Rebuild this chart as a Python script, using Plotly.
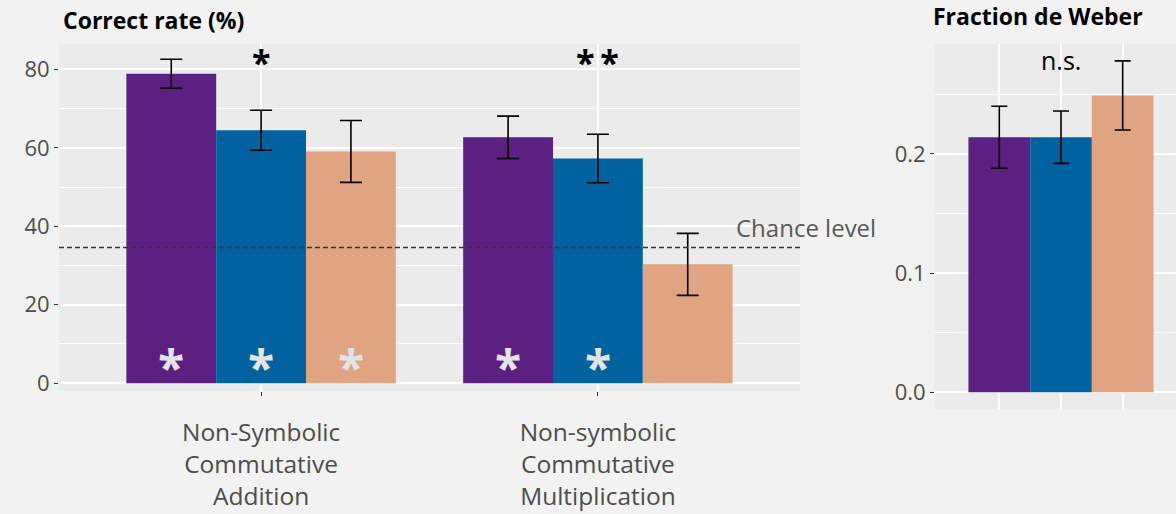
import plotly.graph_objects as go

# ---- data -------------------------------------------------------------
conditions = [
    "Non-Symbolic<br>Commutative<br>Addition",
    "Non-symbolic<br>Commutative<br>Multiplication",
]
group_names = ["Group 1", "Group 2", "Group 3"]
group_colors = ["#5B2082", "#00629E", "#E0A482"]

# correct rate (%) per condition, one list per group
rate_g1 = [78.9, 62.7]
rate_g2 = [64.5, 57.3]
rate_g3 = [59.1, 30.3]
rate_err_g1 = [3.7, 5.4]
rate_err_g2 = [5.1, 6.2]
rate_err_g3 = [7.9, 7.9]

# significance against chance, drawn inside each bar
above_chance_g1 = [True, True]
above_chance_g2 = [True, True]
above_chance_g3 = [True, False]

# between-group comparison per condition
group_comparison = ["*", "*\u2009*"]

chance_level = 34.6

# Weber fraction per group
weber = [0.214, 0.214, 0.249]
weber_err = [0.026, 0.022, 0.029]
weber_comparison = "n.s."

rate_y_ticks = [0, 20, 40, 60, 80]
weber_y_ticks = [0.0, 0.1, 0.2]
weber_y_ticktext = ["0.0", "0.1", "0.2"]

# ---- figure -----------------------------------------------------------
W, H = 1176, 514
FONT = "Open Sans"
TICK_COLOR = "#4D4D4D"
BARGAP = 0.2

fig = go.Figure()

rates = [rate_g1, rate_g2, rate_g3]
errs = [rate_err_g1, rate_err_g2, rate_err_g3]
for name, color, vals, err in zip(group_names, group_colors, rates, errs):
    fig.add_trace(go.Bar(
        x=conditions, y=vals, name=name,
        marker=dict(color=color, line=dict(width=0)),
        error_y=dict(type="data", array=err, color="black", thickness=1.6, width=11),
        xaxis="x", yaxis="y", showlegend=False,
    ))

fig.add_trace(go.Bar(
    x=group_names, y=weber, width=[1.0] * len(weber),
    marker=dict(color=group_colors, line=dict(width=0)),
    error_y=dict(type="data", array=weber_err, color="black", thickness=1.6, width=8),
    xaxis="x2", yaxis="y2", showlegend=False,
))

annotations = []

# white stars inside the bars (above chance), placed at each dodged bar centre
n_groups = len(group_names)
bar_w = (1 - BARGAP) / n_groups
flags = [above_chance_g1, above_chance_g2, above_chance_g3]
for gi, gflags in enumerate(flags):
    offset = (gi - (n_groups - 1) / 2) * bar_w
    for ci, flag in enumerate(gflags):
        if flag:
            annotations.append(dict(
                x=ci + offset, y=4.3, xref="x", yref="y", text="<b>*</b>",
                showarrow=False, xanchor="center", yanchor="middle",
                font=dict(family=FONT, size=48, color="#E3E3E3"),
            ))

# between-group comparison marks
for ci, mark in enumerate(group_comparison):
    annotations.append(dict(
        x=ci, y=81.8, xref="x", yref="y", text="<b>" + mark + "</b>",
        showarrow=False, xanchor="center", yanchor="middle",
        font=dict(family=FONT, size=34, color="black"),
    ))

annotations.append(dict(
    x=1, y=0.279, xref="x2", yref="y2", text=weber_comparison,
    showarrow=False, xanchor="center", yanchor="middle",
    font=dict(family=FONT, size=25, color="black"),
))

annotations.append(dict(
    x=734 / W, y=1 - 227 / H, xref="paper", yref="paper", text="Chance level",
    showarrow=False, xanchor="left", yanchor="middle",
    font=dict(family=FONT, size=24, color="#595959"),
))

annotations.append(dict(
    x=61 / W, y=1 - 20 / H, xref="paper", yref="paper", text="<b>Correct rate (%)</b>",
    showarrow=False, xanchor="left", yanchor="middle",
    font=dict(family=FONT, size=23, color="black"),
))
annotations.append(dict(
    x=931 / W, y=1 - 16 / H, xref="paper", yref="paper", text="<b>Fraction de Weber</b>",
    showarrow=False, xanchor="left", yanchor="middle",
    font=dict(family=FONT, size=23, color="black"),
))

axis_common = dict(
    automargin=False,
    showline=False, zeroline=False, showgrid=True, gridcolor="white", gridwidth=1.6,
    tickfont=dict(family=FONT, size=22, color=TICK_COLOR),
    tickcolor="#333333", ticklen=4, tickwidth=1.2,
)

fig.update_layout(
    width=W, height=H,
    margin=dict(l=0, r=0, t=0, b=0, autoexpand=False),
    paper_bgcolor="#F2F2F2", plot_bgcolor="#EBEBEB",
    barmode="group", bargap=BARGAP, bargroupgap=0,
    font=dict(family=FONT),
    xaxis=dict(
        axis_common, domain=[59 / W, 800 / W], anchor="y", type="category",
        range=[-0.6, 1.6], ticks="outside",
        tickfont=dict(family=FONT, size=24.5, color=TICK_COLOR),
        ticklabelstandoff=16,
    ),
    yaxis=dict(
        axis_common, domain=[1 - 391 / H, 1 - 44 / H], anchor="x",
        range=[-2.0, 86.5], tickvals=rate_y_ticks, ticks="outside",
        minor=dict(tickvals=[10, 30, 50, 70], showgrid=True, gridcolor="white",
                   gridwidth=0.8, ticks=""),
    ),
    xaxis2=dict(
        axis_common, domain=[935 / W, 1.0], anchor="y2", type="category",
        range=[-1.042, 2.864], ticks="", showticklabels=False,
    ),
    yaxis2=dict(
        axis_common, domain=[1 - 408.7 / H, 1 - 44 / H], anchor="x2",
        range=[-0.0138, 0.2922], tickvals=weber_y_ticks, ticktext=weber_y_ticktext,
        ticks="outside",
        minor=dict(tickvals=[0.05, 0.15, 0.25], showgrid=True, gridcolor="white",
                   gridwidth=0.8, ticks=""),
    ),
    shapes=[dict(
        type="line", xref="x domain", yref="y", x0=0, x1=1,
        y0=chance_level, y1=chance_level, layer="above",
        line=dict(color="#333333", width=1.3, dash="5px,3px"),
    )],
    annotations=annotations,
)

fig.write_html("out.html")
